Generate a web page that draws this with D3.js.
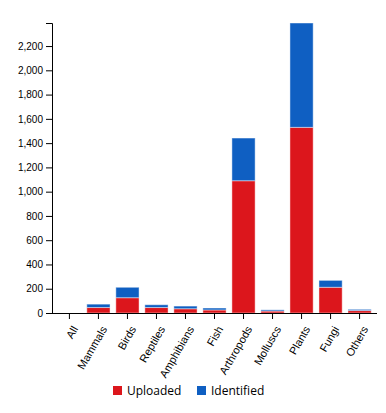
<!DOCTYPE html>
<html>
<head>
<meta charset="utf-8">
<script src="https://cdn.jsdelivr.net/npm/d3@7"></script>
<style>
  body { margin: 0; background: #fff; }
  .axis text { font-family: "Liberation Sans", Arial, sans-serif; font-size: 10px; fill: #000; }
  .xaxis text { font-size: 11px; }
  .axis path, .axis line { stroke: #000; }
  .legend text { font-family: "Open Sans", sans-serif; font-size: 12px; fill: #000; }
</style>
</head>
<body>
<div id="chart"></div>
<script>
const SVG_WIDTH = 386;
const SVG_HEIGHT = 413;
const MARGIN = { TOP: 23, RIGHT: 9, LEFT: 52, BOTTOM: 100 };

// data
const categories = ["All", "Mammals", "Birds", "Reptiles", "Amphibians", "Fish",
  "Arthropods", "Molluscs", "Plants", "Fungi", "Others"];
const uploaded = [0, 45, 126, 45, 35, 25, 1090, 16, 1530, 212, 20];
const identified = [0, 28, 86, 23, 22, 16, 352, 10, 860, 57, 10];
const seriesNames = ["Uploaded", "Identified"];
const colors = ["#dc161c", "#0f5fc2"];

const svg = d3.select("#chart").append("svg")
  .attr("width", SVG_WIDTH)
  .attr("height", SVG_HEIGHT);

const rows = categories.map((c, i) => ({ cat: c, Uploaded: uploaded[i], Identified: identified[i] }));
const stacked = d3.stack().keys(seriesNames)(rows);

const innerH = SVG_HEIGHT - MARGIN.TOP - MARGIN.BOTTOM;

const xScale = d3.scaleBand()
  .domain(categories)
  .range([MARGIN.LEFT, SVG_WIDTH - MARGIN.RIGHT])
  .padding(0.2);

const yScale = d3.scaleLinear()
  .domain([0, d3.max(rows, d => d.Uploaded + d.Identified)])
  .range([MARGIN.TOP + innerH, MARGIN.TOP]);

// bars
svg.append("g").selectAll("g")
  .data(stacked)
  .enter().append("g")
  .attr("fill", (d, i) => colors[i])
  .selectAll("rect")
  .data(d => d)
  .enter().append("rect")
  .attr("x", d => xScale(d.data.cat))
  .attr("y", d => yScale(d[1]))
  .attr("width", xScale.bandwidth())
  .attr("height", d => yScale(d[0]) - yScale(d[1]))
  .attr("stroke", "#fff")
  .attr("stroke-opacity", 0.45)
  .attr("stroke-width", 1);

// y axis
svg.append("g")
  .attr("class", "axis")
  .attr("transform", `translate(${MARGIN.LEFT},0)`)
  .call(d3.axisLeft(yScale).ticks(10).tickFormat(d3.format(",")));

// x axis
svg.append("g")
  .attr("class", "axis xaxis")
  .attr("transform", `translate(0,${MARGIN.TOP + innerH})`)
  .call(d3.axisBottom(xScale).tickSizeOuter(0))
  .selectAll("text")
  .attr("text-anchor", "end")
  .attr("x", 0)
  .attr("y", 0)
  .attr("dy", 0)
  .attr("transform", "translate(9,16) rotate(-60)");

svg.select(".xaxis path").attr("d", `M${MARGIN.LEFT},0.5H${SVG_WIDTH - MARGIN.RIGHT}`);

// legend
const legend = svg.append("g").attr("class", "legend");
const legendX = [113, 197];
seriesNames.forEach((name, i) => {
  const g = legend.append("g").attr("transform", `translate(${legendX[i]},386)`);
  g.append("rect").attr("width", 9).attr("height", 9).attr("fill", colors[i]);
  g.append("text").attr("x", 14).attr("y", 9).text(name);
});
</script>
</body>
</html>
